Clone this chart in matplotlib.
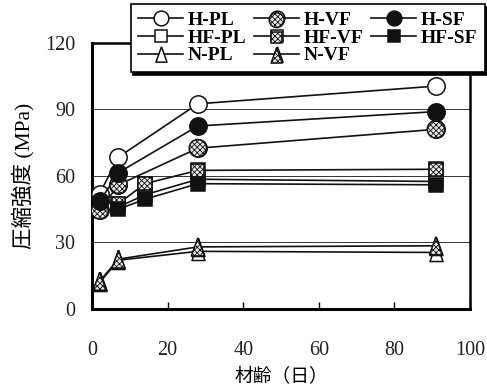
import matplotlib
matplotlib.use("Agg")
import matplotlib.pyplot as plt
from matplotlib.legend_handler import HandlerTuple

plt.rcParams['hatch.linewidth'] = 0.6

# ---- data ----
ages_H = [2, 7, 28, 91]
H_PL = [52, 68.5, 92.5, 100.5]
H_VF = [44.5, 56, 72.5, 81]
H_SF = [48.5, 61.5, 82.5, 89]

ages_HF = [7, 14, 28, 91]
HF_PL = [46, 51.5, 58.5, 57.5]
HF_VF = [47.5, 56.5, 62.5, 63]
HF_SF = [45, 49.5, 56.5, 56]

ages_N = [2, 7, 28, 91]
N_PL = [12, 22, 26, 25.5]
N_VF = [12.5, 22.5, 28, 28.5]

x_ticks = [0, 20, 40, 60, 80, 100]
y_ticks = [0, 30, 60, 90, 120]

serif = ['Liberation Serif', 'DejaVu Serif']
cjk = ['Liberation Serif', 'Noto Sans CJK JP']

fig = plt.figure(figsize=(4.87, 3.88), dpi=100)
ax = fig.add_axes([0.189, 0.2036, 0.776, 0.686])

tri = [(0, 1), (-0.72, -1), (0.72, -1), (0, 1)]
ink = '#111111'

series = [
    ("H-PL", ages_H, H_PL, 'o', 'white', 12.5, False),
    ("H-VF", ages_H, H_VF, 'o', 'white', 12.5, True),
    ("H-SF", ages_H, H_SF, 'o', ink, 12.5, False),
    ("HF-PL", ages_HF, HF_PL, 's', 'white', 9.5, False),
    ("HF-VF", ages_HF, HF_VF, 's', 'white', 9.5, True),
    ("HF-SF", ages_HF, HF_SF, 's', ink, 9.5, False),
    ("N-PL", ages_N, N_PL, tri, 'white', 13, False),
    ("N-VF", ages_N, N_VF, tri, 'white', 13, True),
]

handles = {}
z = 3
for name, xs, ys, mk, fc, ms, hatched in series:
    h, = ax.plot(xs, ys, color=ink, lw=1.2, marker=mk, ms=ms,
                 mfc=fc, mec=ink, mew=1.1, label=name, zorder=z)
    if hatched:
        sc = ax.scatter(xs, ys, s=ms ** 2, marker=mk, facecolor='#e8e8e8',
                        edgecolor=ink, linewidths=1.1, hatch='xxxxxx',
                        zorder=z + 0.5)
        handles[name] = (h, sc)
    else:
        handles[name] = h
    z += 1

# grid lines
for g in [30, 60, 90]:
    ax.axhline(g, color='#333333', lw=0.7, zorder=1)

ax.set_xlim(0, 100)
ax.set_ylim(0, 120)
ax.set_xticks(x_ticks)
ax.set_yticks(y_ticks)
ax.tick_params(axis='x', direction='in', length=5, width=1.0, pad=23)
ax.tick_params(axis='y', length=0, pad=12)
for lab in ax.get_xticklabels() + ax.get_yticklabels():
    lab.set_fontfamily(serif)
    lab.set_fontsize(14.5)
    lab.set_color('#222222')
for s in ['left', 'bottom']:
    ax.spines[s].set_linewidth(2.2)
for s in ['right', 'top']:
    ax.spines[s].set_linewidth(1.8)

ax.set_ylabel("圧縮強度 (MPa)", family=cjk, fontsize=15.5, labelpad=8)
ax.set_xlabel("材齢（日）", family=cjk, fontsize=13.5, labelpad=6)

order = ["H-PL", "HF-PL", "N-PL", "H-VF", "HF-VF", "N-VF", "H-SF", "HF-SF"]
leg = fig.legend([handles[n] for n in order], order, ncol=3,
                 loc='upper left', bbox_to_anchor=(0.268, 0.99),
                 prop={'family': serif, 'size': 14, 'weight': 'bold'},
                 handlelength=2.3, handletextpad=0.25, columnspacing=0.4,
                 labelspacing=0.0, borderpad=0.4, borderaxespad=0,
                 frameon=True, fancybox=False,
                 shadow={'color': 'black', 'alpha': 1},
                 markerscale=0.85, scatterpoints=1,
                 handler_map={tuple: HandlerTuple(ndivide=1)})
leg.get_frame().set_edgecolor('black')
leg.get_frame().set_linewidth(1.2)
leg.set_zorder(10)

fig.savefig("out.png", dpi=100)
